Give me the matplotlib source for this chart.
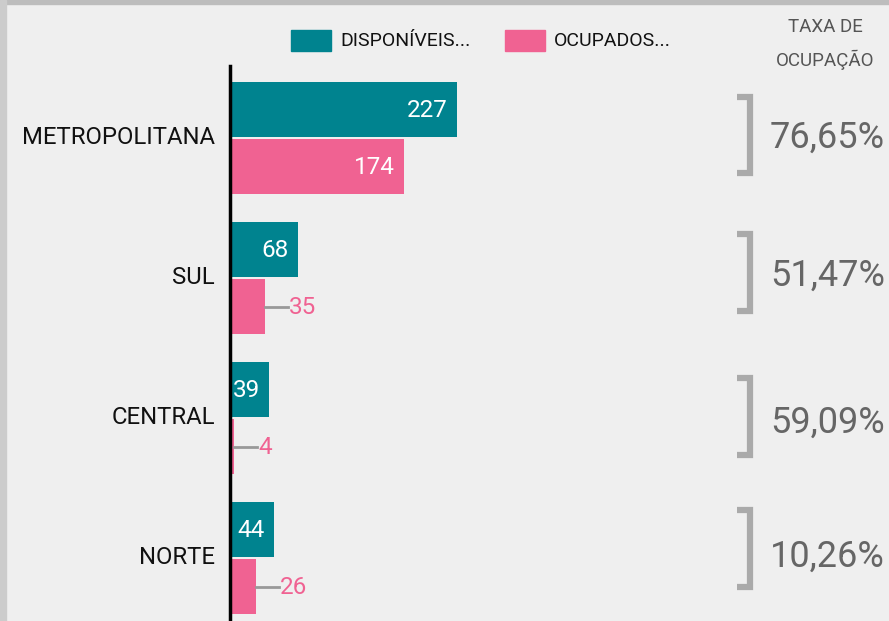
import matplotlib
matplotlib.use("Agg")
import matplotlib.pyplot as plt
import matplotlib.transforms as mtrans
from matplotlib.patches import Rectangle
from matplotlib.lines import Line2D

categories = ["METROPOLITANA", "SUL", "CENTRAL", "NORTE"]
disponiveis = [227, 68, 39, 44]
ocupados = [174, 35, 4, 26]
taxa = ["76,65%", "51,47%", "59,09%", "10,26%"]
legend_labels = ["DISPONÍVEIS...", "OCUPADOS..."]

TEAL = "#00838f"
PINK = "#f06292"
BG = "#efefef"
FONT = "Roboto"

W, H, DPI = 889, 621, 100
fig = plt.figure(figsize=(W / DPI, H / DPI), dpi=DPI, facecolor=BG)

# border
fig.patches.append(Rectangle((0, 1 - 4 / H), 1, 4 / H, transform=fig.transFigure,
                             color="#bdbdbd", zorder=0))
fig.patches.append(Rectangle((0, 0), 6 / W, 1, transform=fig.transFigure,
                             color="#cccccc", zorder=0))

ax_left, ax_right, ax_top = 230, 700, 66
ax = fig.add_axes([ax_left / W, 0, (ax_right - ax_left) / W, (H - ax_top) / H])
ax.set_facecolor(BG)
ax.set_xlim(0, ax_right - ax_left)
ax.set_ylim(3.45, -0.514)
for s in ["top", "right", "bottom"]:
    ax.spines[s].set_visible(False)
ax.spines["left"].set_linewidth(2.5)
ax.spines["left"].set_color("black")
ax.set_xticks([])
ax.set_yticks([])

bh = 0.395
ys = list(range(len(categories)))
ax.barh([y - bh / 2 - 0.004 for y in ys], disponiveis, height=bh, color=TEAL, zorder=2)
ax.barh([y + bh / 2 + 0.004 for y in ys], ocupados, height=bh, color=PINK, zorder=2)

def off(dx, dy=0):
    return mtrans.offset_copy(ax.transData, fig=fig, x=dx, y=dy, units="dots")

for i, y in enumerate(ys):
    # category label
    ax.text(0, y, categories[i], transform=off(-15), ha="right", va="center",
            fontsize=17.2, family=FONT, color="#111111")
    # teal value
    ax.text(disponiveis[i], y - bh / 2, str(disponiveis[i]), transform=off(-9),
            ha="right", va="center", fontsize=17.5, family=FONT, color="white", zorder=3)
    # pink value
    yp = y + bh / 2 + 0.01
    if ocupados[i] >= 60:
        ax.text(ocupados[i], yp, str(ocupados[i]), transform=off(-9),
                ha="right", va="center", fontsize=17.5, family=FONT, color="white", zorder=3)
    else:
        x0 = ax.transData.transform((ocupados[i], 0))[0]
        line = Line2D([x0, x0 + 23], [yp, yp], color="#999999", lw=2,
                      transform=mtrans.blended_transform_factory(mtrans.IdentityTransform(), ax.transData))
        line.set_clip_on(False)
        ax.add_line(line)
        ax.text(ocupados[i], yp, str(ocupados[i]), transform=off(24),
                ha="left", va="center", fontsize=17.5, family=FONT, color=PINK, zorder=3)

# occupancy rates with brackets
blend = mtrans.blended_transform_factory(fig.transFigure, ax.transData)
blend_text = mtrans.offset_copy(blend, fig=fig, x=0, y=-13, units="dots")
bracket_offsets = [-0.021, -0.039, -0.011, -0.068]
text_offsets = [-0.021, -0.036, 0.011, -0.029]
for i, y in enumerate(ys):
    yc = y + bracket_offsets[i]
    half = 0.273
    xv = 750 / W
    xh = 737 / W
    fig.add_artist(Line2D([xh, xv, xv, xh], [yc - half, yc - half, yc + half, yc + half],
                          transform=blend, color="#aaaaaa", lw=4.5,
                          solid_joinstyle="miter", solid_capstyle="butt"))
    fig.text(770 / W, y + text_offsets[i], taxa[i], transform=blend_text, ha="left",
             va="baseline", fontsize=26, family=FONT, color="#666666")

fig.text(825 / W, 1 - 27 / H, "TAXA DE", ha="center", va="center",
         fontsize=13.5, family=FONT, color="#555555")
fig.text(825 / W, 1 - 60 / H, "OCUPAÇÃO", ha="center", va="center",
         fontsize=13.5, family=FONT, color="#555555")

# legend
for (x0, col, lab) in [(291, TEAL, legend_labels[0]), (505, PINK, legend_labels[1])]:
    fig.patches.append(Rectangle((x0 / W, 1 - 51 / H), 40 / W, 21 / H,
                                 transform=fig.transFigure, color=col))
    fig.text((x0 + 49) / W, 1 - 41 / H, lab, ha="left", va="center",
             fontsize=14, family=FONT, color="#111111")

fig.savefig("out.png", dpi=DPI, facecolor=BG)
